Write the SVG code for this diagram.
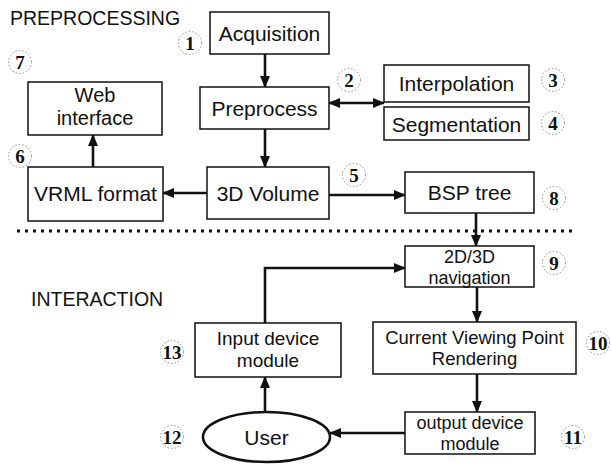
<svg xmlns="http://www.w3.org/2000/svg" width="612" height="464" viewBox="0 0 612 464">
  <style>
    .box { fill: #fff; stroke: #111; stroke-width: 1.5; }
    .t { font-family: "Liberation Sans", Arial, sans-serif; font-size: 21px; fill: #111; text-anchor: middle; }
    .sec { font-family: "Liberation Sans", Arial, sans-serif; font-size: 19.5px; fill: #111; }
    .num { font-family: "Liberation Serif", "Times New Roman", serif; font-weight: bold; font-size: 19px; fill: #111; text-anchor: middle; }
    .ring { fill: none; stroke: #777; stroke-width: 0.8; stroke-dasharray: 1.5 2; }
    .wire { fill: none; stroke: #111; stroke-width: 2.6; }
  </style>
  <defs>
    <marker id="arrow" markerUnits="userSpaceOnUse" markerWidth="12" markerHeight="12" refX="11" refY="6" orient="auto-start-reverse">
      <path d="M0,1 L12,6 L0,11 Z" fill="#111"/>
    </marker>
  </defs>

  <rect width="612" height="464" fill="#fff"/>

  <!-- section headings and divider -->
  <text class="sec" x="10" y="25">PREPROCESSING</text>
  <text class="sec" x="31" y="306">INTERACTION</text>
  <line x1="17" y1="231" x2="572" y2="231" stroke="#111" stroke-width="3" stroke-dasharray="3 5"/>

  <!-- connectors -->
  <g id="connectors">
    <line class="wire" x1="265" y1="54" x2="265" y2="87" marker-end="url(#arrow)"/>
    <line class="wire" x1="329" y1="103" x2="384" y2="103" marker-start="url(#arrow)" marker-end="url(#arrow)"/>
    <line class="wire" x1="265" y1="129" x2="265" y2="167" marker-end="url(#arrow)"/>
    <line class="wire" x1="207" y1="193" x2="163" y2="193" marker-end="url(#arrow)"/>
    <line class="wire" x1="93" y1="167" x2="93" y2="135" marker-end="url(#arrow)"/>
    <line class="wire" x1="329" y1="195" x2="405" y2="195" marker-end="url(#arrow)"/>
    <line class="wire" x1="476" y1="213" x2="476" y2="246" marker-end="url(#arrow)"/>
    <line class="wire" x1="477" y1="287" x2="477" y2="322" marker-end="url(#arrow)"/>
    <line class="wire" x1="477" y1="374" x2="477" y2="412" marker-end="url(#arrow)"/>
    <line class="wire" x1="405" y1="433" x2="330" y2="433" marker-end="url(#arrow)"/>
    <line class="wire" x1="265" y1="412" x2="265" y2="377" marker-end="url(#arrow)"/>
    <polyline class="wire" points="265,323 265,268 405,268" marker-end="url(#arrow)"/>
  </g>

  <!-- nodes -->
  <g id="acquisition">
    <rect class="box" x="210" y="12" width="119" height="42"/>
    <text class="t" x="269.5" y="41">Acquisition</text>
  </g>
  <g id="preprocess">
    <rect class="box" x="200" y="87" width="129" height="42"/>
    <text class="t" x="264.5" y="116">Preprocess</text>
  </g>
  <g id="interpolation">
    <rect class="box" x="384" y="65" width="145" height="37"/>
    <text class="t" x="456.5" y="91">Interpolation</text>
  </g>
  <g id="segmentation">
    <rect class="box" x="384" y="107" width="145" height="33"/>
    <text class="t" x="456.5" y="132">Segmentation</text>
  </g>
  <g id="web-interface">
    <rect class="box" x="28" y="82" width="134" height="53"/>
    <text class="t" x="95" y="102" style="font-size:20px">Web</text>
    <text class="t" x="95" y="124.5" style="font-size:20px">interface</text>
  </g>
  <g id="vrml-format">
    <rect class="box" x="28" y="167" width="135" height="54"/>
    <text class="t" x="95.5" y="201">VRML format</text>
  </g>
  <g id="volume-3d">
    <rect class="box" x="207" y="167" width="122" height="52"/>
    <text class="t" x="268" y="201">3D Volume</text>
  </g>
  <g id="bsp-tree">
    <rect class="box" x="405" y="172" width="129" height="41"/>
    <text class="t" x="469.5" y="200">BSP tree</text>
  </g>
  <g id="navigation">
    <rect class="box" x="405" y="246" width="129" height="41"/>
    <text class="t" x="469.5" y="263" style="font-size:18px">2D/3D</text>
    <text class="t" x="469.5" y="283.5" style="font-size:18px">navigation</text>
  </g>
  <g id="rendering">
    <rect class="box" x="373" y="322" width="203" height="52"/>
    <text class="t" x="474.5" y="344" style="font-size:18.5px">Current Viewing Point</text>
    <text class="t" x="474.5" y="365" style="font-size:18.5px">Rendering</text>
  </g>
  <g id="output-device">
    <rect class="box" x="405" y="412" width="130" height="42"/>
    <text class="t" x="470" y="429" style="font-size:18px">output device</text>
    <text class="t" x="470" y="449.5" style="font-size:18px">module</text>
  </g>
  <g id="input-device">
    <rect class="box" x="195" y="323" width="146" height="54"/>
    <text class="t" x="268" y="345" style="font-size:19px">Input device</text>
    <text class="t" x="268" y="367" style="font-size:19px">module</text>
  </g>
  <g id="user">
    <ellipse cx="266.5" cy="437" rx="63.5" ry="25" fill="#fff" stroke="#111" stroke-width="2.6"/>
    <text class="t" x="266.5" y="445">User</text>
  </g>

  <!-- step numbers -->
  <g id="labels">
    <circle class="ring" cx="190" cy="43" r="11.5"/><text class="num" x="190" y="49.5">1</text>
    <circle class="ring" cx="349" cy="80" r="11.5"/><text class="num" x="349" y="86.5">2</text>
    <circle class="ring" cx="553" cy="80" r="11.5"/><text class="num" x="553" y="86.5">3</text>
    <circle class="ring" cx="553" cy="123" r="11.5"/><text class="num" x="553" y="129.5">4</text>
    <circle class="ring" cx="354" cy="175" r="11.5"/><text class="num" x="354" y="181.5">5</text>
    <circle class="ring" cx="20" cy="156" r="11.5"/><text class="num" x="20" y="162.5">6</text>
    <circle class="ring" cx="20" cy="62" r="11.5"/><text class="num" x="20" y="68.5">7</text>
    <circle class="ring" cx="554" cy="198" r="11.5"/><text class="num" x="554" y="204.5">8</text>
    <circle class="ring" cx="554" cy="263" r="11.5"/><text class="num" x="554" y="269.5">9</text>
    <circle class="ring" cx="598" cy="343" r="11.5"/><text class="num" x="598" y="349.5">10</text>
    <circle class="ring" cx="573" cy="437" r="11.5"/><text class="num" x="573" y="443.5">11</text>
    <circle class="ring" cx="172" cy="437" r="11.5"/><text class="num" x="172" y="443.5">12</text>
    <circle class="ring" cx="172" cy="352" r="11.5"/><text class="num" x="172" y="358.5">13</text>
  </g>
</svg>
